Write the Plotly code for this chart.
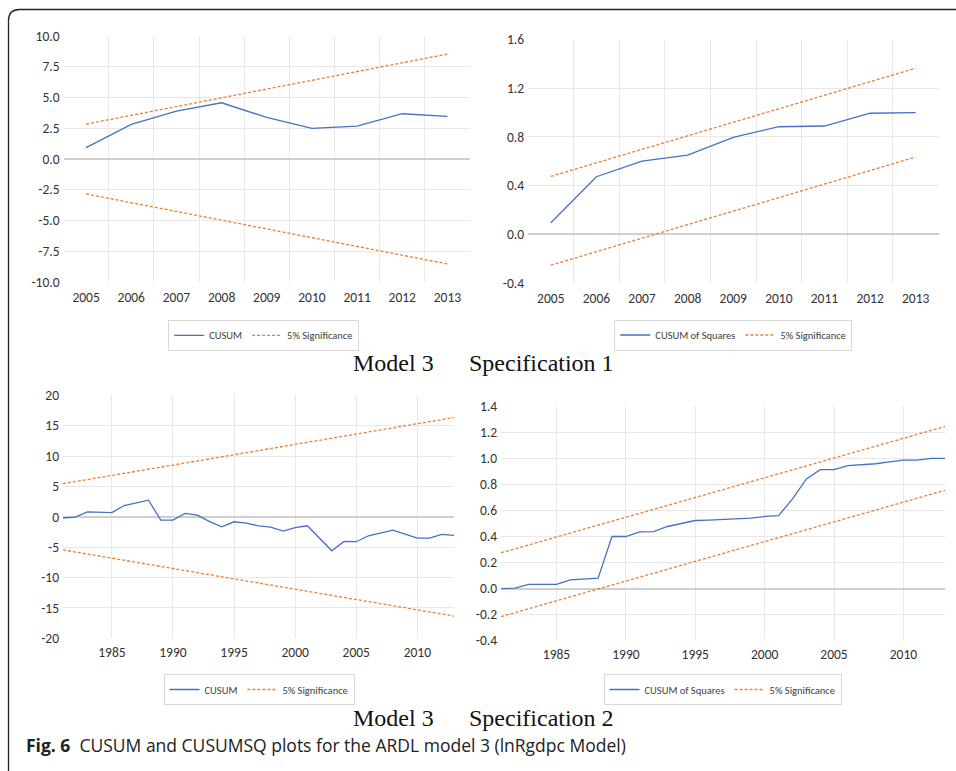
import plotly.graph_objects as go

W, H = 956, 771
MT, MB = 8, 8            # top / bottom margin of the figure
PH = H - MT - MB         # height of the paper area

# ---------------- data ----------------
years_1 = [2005, 2006, 2007, 2008, 2009, 2010, 2011, 2012, 2013]
cusum_1 = [0.92, 2.82, 3.90, 4.57, 3.38, 2.49, 2.68, 3.68, 3.47]
cusum_1_upper = [2.84, 3.56, 4.27, 4.98, 5.69, 6.40, 7.11, 7.82, 8.53]
cusum_1_lower = [-2.84, -3.56, -4.27, -4.98, -5.69, -6.40, -7.11, -7.82, -8.53]

cusumsq_1 = [0.095, 0.473, 0.602, 0.651, 0.797, 0.884, 0.890, 0.995, 1.0]
cusumsq_1_upper = [0.476, 0.587, 0.698, 0.809, 0.921, 1.032, 1.143, 1.254, 1.365]
cusumsq_1_lower = [-0.254, -0.143, -0.032, 0.079, 0.191, 0.302, 0.413, 0.524, 0.635]

years_2 = list(range(1981, 2014))
cusum_2 = [-0.2, -0.05, 0.8, 0.77, 0.7, 1.86, 2.3, 2.74, -0.55, -0.55,
           0.55, 0.27, -0.8, -1.64, -0.82, -1.04, -1.48, -1.7, -2.36, -1.8,
           -1.48, -3.56, -5.6, -4.05, -4.1, -3.12, -2.6, -2.2, -2.85, -3.5,
           -3.5, -2.9, -3.07]
bound_years_2 = [1981, 2013]
cusum_2_upper = [5.45, 16.34]
cusum_2_lower = [-5.45, -16.34]

cusumsq_2 = [0.0, 0.003, 0.033, 0.033, 0.033, 0.067, 0.074, 0.08, 0.40, 0.40,
             0.436, 0.438, 0.477, 0.50, 0.523, 0.526, 0.53, 0.533, 0.541, 0.554,
             0.56, 0.687, 0.84, 0.913, 0.913, 0.944, 0.951, 0.959, 0.974, 0.987,
             0.987, 1.0, 1.0]
cusumsq_2_upper = [0.275, 1.245]
cusumsq_2_lower = [-0.215, 0.755]

ticks_y1 = [-10, -7.5, -5, -2.5, 0, 2.5, 5, 7.5, 10]
labels_y1 = ["-10.0", "-7.5", "-5.0", "-2.5", "0.0", "2.5", "5.0", "7.5", "10.0"]
ticks_y2 = [-0.4, 0.0, 0.4, 0.8, 1.2, 1.6]
labels_y2 = ["-0.4", "0.0", "0.4", "0.8", "1.2", "1.6"]
ticks_y3 = [-20, -15, -10, -5, 0, 5, 10, 15, 20]
labels_y3 = ["-20", "-15", "-10", "-5", "0", "5", "10", "15", "20"]
ticks_y4 = [-0.4, -0.2, 0.0, 0.2, 0.4, 0.6, 0.8, 1.0, 1.2, 1.4]
labels_y4 = ["-0.4", "-0.2", "0.0", "0.2", "0.4", "0.6", "0.8", "1.0", "1.2", "1.4"]
ticks_x2 = [1985, 1990, 1995, 2000, 2005, 2010]
cat_bounds_1 = [2005.5, 2006.5, 2007.5, 2008.5, 2009.5, 2010.5, 2011.5, 2012.5]

# ---------------- style ----------------
BLUE = "#4472C4"
ORANGE = "#ED7D31"
GRID = "#e8e8e8"
ZERO = "#cfcfcf"
NARROW = "Carlito, Liberation Sans Narrow, Lato, sans-serif"
TICKFONT = dict(family=NARROW, size=13.5, color="#333333")
LEGFONT = dict(family=NARROW, size=10.5, color="#404040")
DASH = "3px,2px"


def px_x(p):
    return p / W


def px_y(p):
    return 1 - (p - MT) / PH


fig = go.Figure()


def add_panel(idx, x, y, up_x, up, lo, name, legend):
    xa = "x" if idx == 1 else f"x{idx}"
    ya = "y" if idx == 1 else f"y{idx}"
    fig.add_trace(go.Scatter(x=x, y=y, mode="lines", name=name,
                             line=dict(color=BLUE, width=1.3),
                             xaxis=xa, yaxis=ya, legend=legend, hoverinfo="x+y"))
    fig.add_trace(go.Scatter(x=list(up_x) + [None] + list(up_x),
                             y=list(up) + [None] + list(lo),
                             mode="lines", name="5% Significance",
                             line=dict(color=ORANGE, width=1.3, dash=DASH),
                             connectgaps=False,
                             xaxis=xa, yaxis=ya, legend=legend, hoverinfo="x+y"))


add_panel(1, years_1, cusum_1, years_1, cusum_1_upper, cusum_1_lower, "CUSUM", "legend")
add_panel(2, years_1, cusumsq_1, years_1, cusumsq_1_upper, cusumsq_1_lower, "CUSUM of Squares", "legend2")
add_panel(3, years_2, cusum_2, bound_years_2, cusum_2_upper, cusum_2_lower, "CUSUM", "legend3")
add_panel(4, years_2, cusumsq_2, bound_years_2, cusumsq_2_upper, cusumsq_2_lower, "CUSUM of Squares", "legend4")

# panel pixel boxes: (left, right, top, bottom)
boxes = {
    1: (63.5, 470, 36, 282),
    2: (528, 938.5, 39.6, 283),
    3: (63, 454, 395.3, 638.3),
    4: (501, 945, 406.3, 640.7),
}


def xaxis_cat(box, anchor):
    l, r, t, b = box
    return dict(domain=[px_x(l), px_x(r)], anchor=anchor,
                range=[2004.5, 2013.5], tickmode="array", tickvals=years_1,
                showgrid=False, zeroline=False,
                showline=True, mirror=True, linecolor="white", linewidth=2,
                ticks="", tickfont=TICKFONT, ticklabelstandoff=2,
                minor=dict(tickmode="array", tickvals=cat_bounds_1, showgrid=True,
                           gridcolor=GRID, gridwidth=1, ticks=""))


def xaxis_year(box, anchor):
    l, r, t, b = box
    return dict(domain=[px_x(l), px_x(r)], anchor=anchor,
                range=[1981, 2013], tickmode="array", tickvals=ticks_x2,
                showgrid=True, gridcolor=GRID, gridwidth=1,
                zeroline=False, showline=True, mirror=True, linecolor="white", linewidth=2,
                ticks="", tickfont=TICKFONT, ticklabelstandoff=0)


def yaxis(box, anchor, rng, tv, tt):
    l, r, t, b = box
    return dict(domain=[px_y(b), px_y(t)], anchor=anchor,
                range=rng, tickmode="array", tickvals=tv, ticktext=tt,
                showgrid=True, gridcolor=GRID, gridwidth=1,
                zeroline=True, zerolinecolor=ZERO, zerolinewidth=1.6,
                showline=False, ticks="", tickfont=TICKFONT, ticklabelstandoff=3)


layout_axes = {
    "xaxis": xaxis_cat(boxes[1], "y"),
    "yaxis": yaxis(boxes[1], "x", [-10, 10], ticks_y1, labels_y1),
    "xaxis2": xaxis_cat(boxes[2], "y2"),
    "yaxis2": yaxis(boxes[2], "x2", [-0.4, 1.6], ticks_y2, labels_y2),
    "xaxis3": xaxis_year(boxes[3], "y3"),
    "yaxis3": yaxis(boxes[3], "x3", [-20, 20], ticks_y3, labels_y3),
    "xaxis4": xaxis_year(boxes[4], "y4"),
    "yaxis4": yaxis(boxes[4], "x4", [-0.4, 1.4], ticks_y4, labels_y4),
}

legend_centers = {
    "legend": (263.7, 335.3),
    "legend2": (733.3, 335.0),
    "legend3": (259.0, 689.5),
    "legend4": (722.5, 689.5),
}
legends = {}
for key, (cx, cy) in legend_centers.items():
    legends[key] = dict(x=px_x(cx), y=px_y(cy), xanchor="center", yanchor="middle",
                        orientation="h", bgcolor="white", bordercolor="#d9d9d9",
                        borderwidth=1, font=LEGFONT, itemwidth=30,
                        tracegroupgap=0)

SERIF = dict(family="Liberation Serif, Times New Roman, serif", size=24, color="#111111")
annotations = []
for (mx, sx, ty, spec) in [(393.8, 541.7, 363, "Specification 1"), (393.8, 541.7, 718, "Specification 2")]:
    annotations.append(dict(text="Model 3", x=px_x(mx), y=px_y(ty), xref="paper", yref="paper",
                            xanchor="center", yanchor="middle", showarrow=False, font=SERIF))
    annotations.append(dict(text=spec, x=px_x(sx), y=px_y(ty), xref="paper", yref="paper",
                            xanchor="center", yanchor="middle", showarrow=False, font=SERIF))

annotations.append(dict(text="<b>Fig. 6</b>  CUSUM and CUSUMSQ plots for the ARDL model 3 (lnRgdpc Model)",
                        x=px_x(24), y=px_y(745), xref="paper", yref="paper",
                        xanchor="left", yanchor="middle", showarrow=False,
                        font=dict(family="Open Sans, Noto Sans, sans-serif", size=17.5, color="#222222")))

# rounded frame (top-left corner), in paper units
fx0, fy0, rad = 8.5, 9.5, 11
frame_path = (f"M {px_x(fx0)} {px_y(H + 20)} L {px_x(fx0)} {px_y(fy0 + rad)} "
              f"Q {px_x(fx0)} {px_y(fy0)} {px_x(fx0 + rad)} {px_y(fy0)} L {px_x(W + 20)} {px_y(fy0)}")
shapes = [dict(type="path", xref="paper", yref="paper", path=frame_path,
               line=dict(color="#222222", width=1.3))]

fig.update_layout(
    width=W, height=H,
    margin=dict(l=0, r=0, t=MT, b=MB, autoexpand=False),
    paper_bgcolor="white", plot_bgcolor="white",
    showlegend=True,
    annotations=annotations,
    shapes=shapes,
    **layout_axes,
    **legends,
)

# remove the default page margin so the figure fills the window exactly
page_fix = ("document.body.style.margin='0';"
            "document.body.style.overflow='hidden';"
            "document.documentElement.style.overflow='hidden';")

fig.write_html("out.html", post_script=page_fix, config={"displayModeBar": False})
